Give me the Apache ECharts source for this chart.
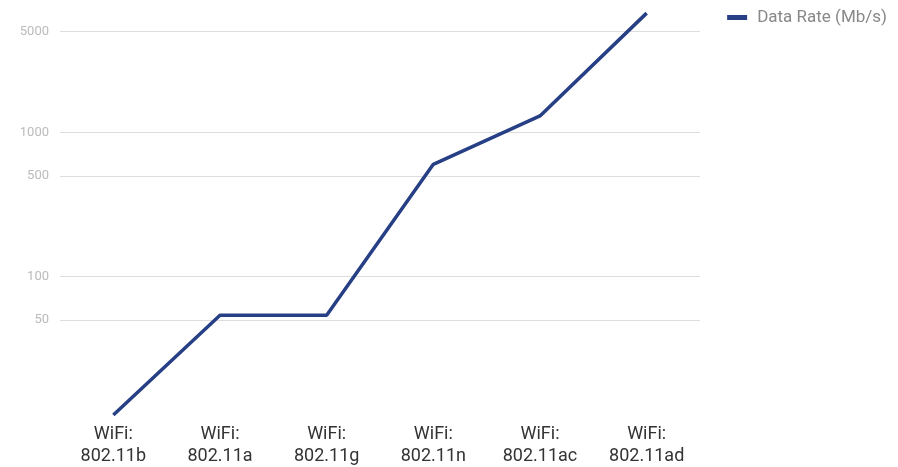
<!DOCTYPE html>
<html>
<head>
<meta charset="utf-8">
<script src="https://cdn.jsdelivr.net/npm/echarts@6/dist/echarts.min.js"></script>
<style>
  html, body { margin: 0; padding: 0; background: #fff; }
  #chart { width: 898px; height: 467px; }
</style>
</head>
<body>
<div id="chart"></div>
<script>
const categories = ['WiFi:\n802.11b', 'WiFi:\n802.11a', 'WiFi:\n802.11g', 'WiFi:\n802.11n', 'WiFi:\n802.11ac', 'WiFi:\n802.11ad']
const dataRate = [11, 54, 54, 600, 1300, 6700]
const yTicks = [50, 100, 500, 1000, 5000]

const chart = echarts.init(document.getElementById('chart'))
chart.setOption({
  animation: false,
  textStyle: { fontFamily: 'Roboto' },
  legend: {
    right: 6,
    top: 4,
    icon: 'rect',
    itemWidth: 20,
    itemHeight: 5,
    textStyle: { color: '#888', fontSize: 17, padding: [0, 0, 0, 5] },
    data: ['Data Rate (Mb/s)']
  },
  grid: {
    left: 60,
    right: 198,
    top: 2,
    bottom: 46
  },
  xAxis: {
    type: 'category',
    data: categories,
    axisLine: { show: false },
    axisTick: { show: false },
    axisLabel: {
      color: '#333',
      fontSize: 18,
      lineHeight: 22,
      margin: 2,
      interval: 0
    }
  },
  yAxis: {
    type: 'log',
    min: 10,
    max: 8000,
    axisLine: { show: false },
    axisTick: { show: false },
    splitLine: { show: false },
    axisLabel: {
      customValues: yTicks,
      formatter: v => String(v),
      color: '#bbb',
      fontSize: 13,
      margin: 11
    }
  },
  series: [
    {
      name: 'Data Rate (Mb/s)',
      type: 'line',
      data: dataRate,
      symbol: 'none',
      color: '#263f85',
      lineStyle: { width: 3.5 },
      z: 3,
      markLine: {
        silent: true,
        symbol: 'none',
        label: { show: false },
        lineStyle: { color: '#ddd', width: 1, type: 'solid' },
        z: 1,
        data: yTicks.map(v => ({ yAxis: v }))
      }
    }
  ]
})
</script>
</body>
</html>
